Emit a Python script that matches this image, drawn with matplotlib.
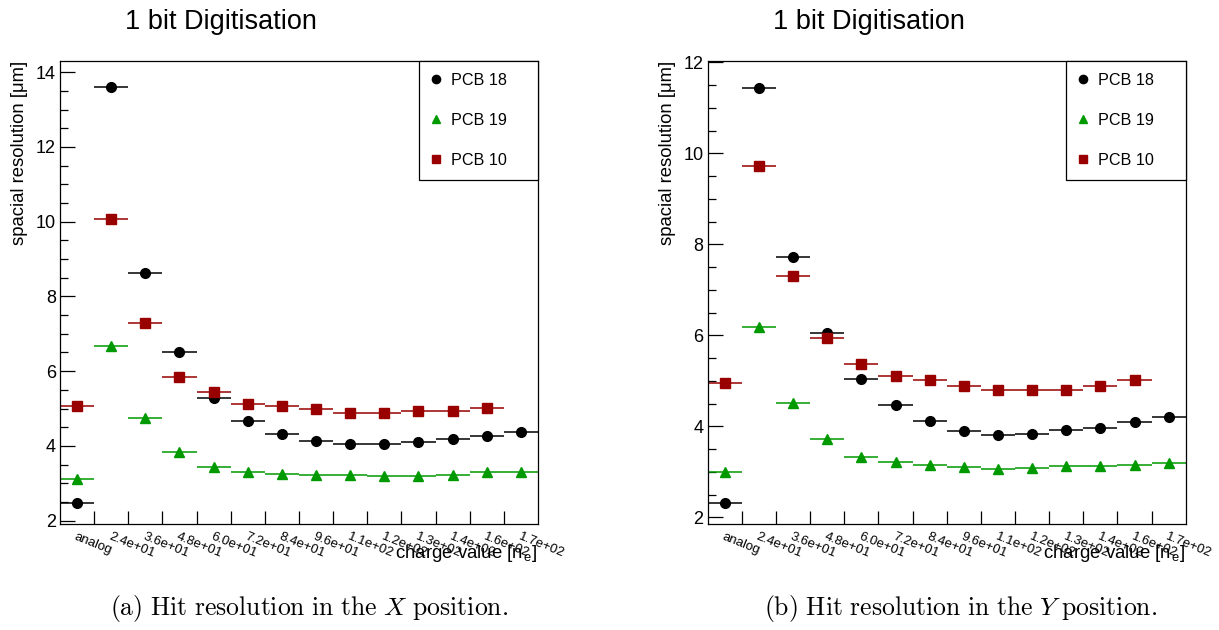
import numpy as np
import matplotlib
matplotlib.use('Agg')
import matplotlib.pyplot as plt
from matplotlib.lines import Line2D

plt.rcParams['font.family'] = ['Liberation Sans', 'DejaVu Sans']
plt.rcParams['mathtext.fontset'] = 'cm'

# bin labels (charge thresholds)
categories = ['analog', '2.4e+01', '3.6e+01', '4.8e+01', '6.0e+01', '7.2e+01', '8.4e+01',
              '9.6e+01', '1.1e+02', '1.2e+02', '1.3e+02', '1.4e+02', '1.6e+02', '1.7e+02']

# X position resolution [um]
x_pcb18 = [2.47, 13.60, 8.62, 6.51, 5.29, 4.67, 4.32, 4.12, 4.04, 4.06, 4.11, 4.18, 4.27, 4.37]
x_pcb19 = [3.11, 6.67, 4.75, 3.83, 3.44, 3.31, 3.26, 3.22, 3.21, 3.19, 3.19, 3.23, 3.29, 3.31]
x_pcb10 = [5.08, 10.08, 7.30, 5.83, 5.43, 5.13, 5.07, 4.98, 4.89, 4.89, 4.94, 4.92, 5.01]

# Y position resolution [um]
y_pcb18 = [2.32, 11.44, 7.72, 6.05, 5.05, 4.47, 4.12, 3.89, 3.82, 3.84, 3.92, 3.97, 4.09, 4.20]
y_pcb19 = [3.00, 6.19, 4.52, 3.73, 3.33, 3.22, 3.16, 3.11, 3.06, 3.08, 3.12, 3.14, 3.16, 3.20]
y_pcb10 = [4.96, 9.72, 7.31, 5.95, 5.38, 5.11, 5.01, 4.88, 4.80, 4.79, 4.80, 4.89, 5.02]

series_names = ['PCB 18', 'PCB 19', 'PCB 10']
colors = ['black', '#009900', '#990000']
markers = ['o', '^', 's']
msizes = [7, 6.5, 6.5]


def draw_panel(ax, data, ylim, leg_x):
    nb = len(categories)
    for vals, name, c, m, ms in zip(data, series_names, colors, markers, msizes):
        xc = np.arange(len(vals)) + 0.5
        ax.errorbar(xc, vals, xerr=0.5, fmt=m, color=c, ms=ms, elinewidth=1.1,
                    capsize=0, label=name)
    ax.set_xlim(0, nb)
    ax.set_ylim(*ylim)

    # labels at bin centres, ticks at bin edges
    ax.set_xticks(np.arange(nb) + 0.5)
    ax.set_xticklabels(categories, rotation=-22, ha='left', va='top',
                       rotation_mode='anchor', fontsize=9.5)
    ax.set_xticks(np.arange(1, nb), minor=True)
    ax.tick_params(axis='x', which='major', length=0, pad=5)
    ax.tick_params(axis='x', which='minor', direction='in', length=9.5, width=0.9,
                   top=False)

    ax.set_yticks(np.arange(2, ylim[1] + 0.01, 2))
    ax.set_yticks(np.arange(2, ylim[1] + 0.01, 0.5), minor=True)
    ax.tick_params(axis='y', which='major', direction='in', length=10.5, width=0.9,
                   labelsize=13, pad=3, right=False)
    ax.tick_params(axis='y', which='minor', direction='in', length=5.5, width=0.9,
                   right=False)

    ax.set_ylabel(u'spacial resolution [\u03bcm]', fontsize=13.3, loc='top',
                  va='center')
    ax.yaxis.set_label_coords(-0.085, 1.0)
    ax.set_xlabel(r'charge value [n$_{\mathregular{e}}$]', fontsize=13.4, loc='right',
                  va='center')
    ax.xaxis.set_label_coords(1.0, -0.063)

    handles = [Line2D([], [], ls='none', marker=m, color=c, ms=ms * 0.85)
               for m, c, ms in zip(markers, colors, msizes)]
    leg = ax.legend(handles, series_names, loc='upper left',
                    bbox_to_anchor=(leg_x, 0, 1 - leg_x, 1.0), mode='expand',
                    borderaxespad=0, frameon=True, fancybox=False, edgecolor='black',
                    fontsize=11.6, labelspacing=1.55, handlelength=0.6, handletextpad=0.65,
                    borderpad=0.75, framealpha=1)
    leg.get_frame().set_linewidth(0.9)
    for sp in ax.spines.values():
        sp.set_linewidth(0.9)


fig = plt.figure(figsize=(12.19, 6.30), dpi=100)
ax1 = fig.add_axes([0.0492, 0.1683, 0.3921, 0.7349])
ax2 = fig.add_axes([0.5806, 0.1683, 0.3921, 0.7349])

draw_panel(ax1, [x_pcb18, x_pcb19, x_pcb10], (1.91, 14.3), 0.751)
draw_panel(ax2, [y_pcb18, y_pcb19, y_pcb10], (1.855, 12.03), 0.75)

fig.text(221 / 1219, 1 - 22 / 630, '1 bit Digitisation', fontsize=19.5, ha='center', va='center')
fig.text(869 / 1219, 1 - 22 / 630, '1 bit Digitisation', fontsize=19.5, ha='center', va='center')

fig.text(309 / 1219, 1 - 608 / 630,
         r'$\mathrm{(a)\ Hit\ resolution\ in\ the\ }X\mathrm{\ position.}$',
         fontsize=18.5, ha='center', va='center')
fig.text(961 / 1219, 1 - 608 / 630,
         r'$\mathrm{(b)\ Hit\ resolution\ in\ the\ }Y\mathrm{\ position.}$',
         fontsize=18.5, ha='center', va='center')

fig.savefig('out.png', dpi=100)
